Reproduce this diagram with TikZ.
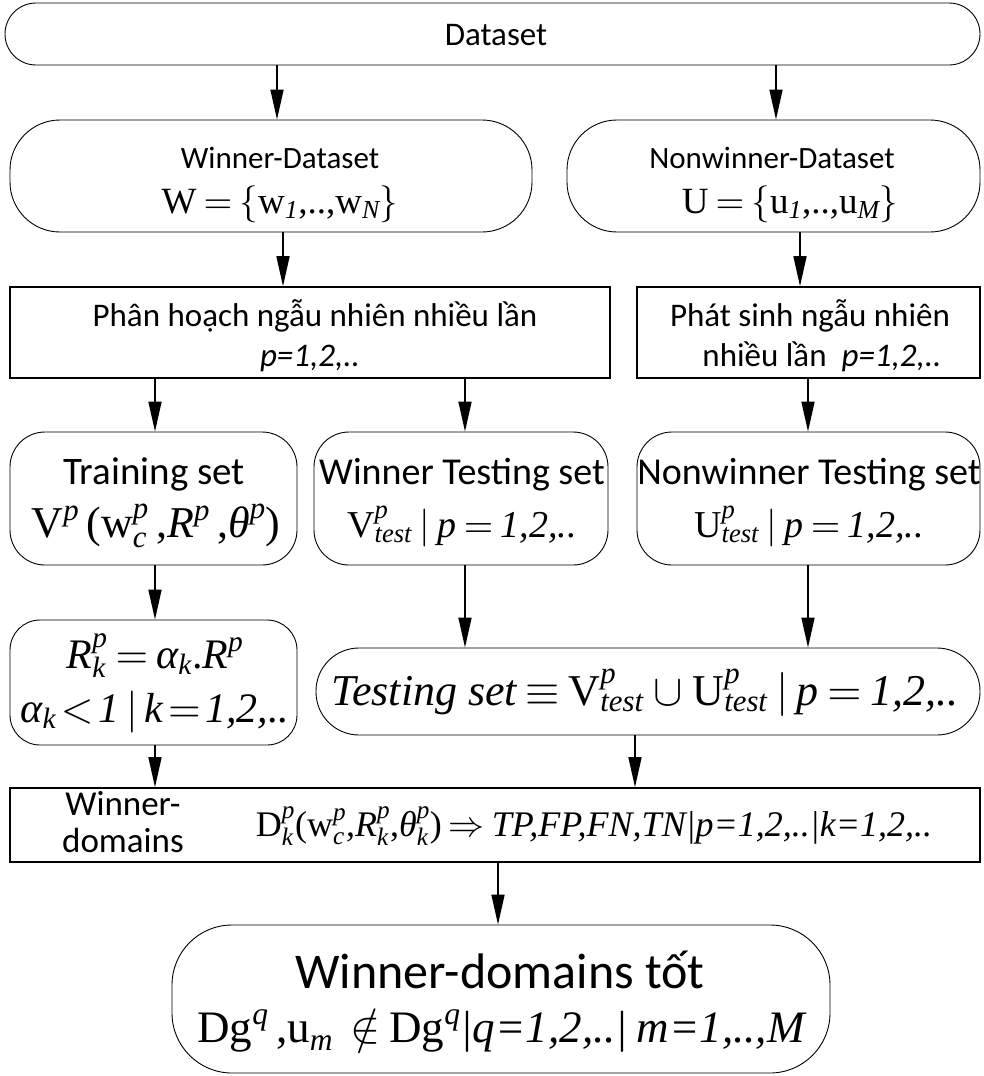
\documentclass[tikz,border=0pt]{standalone}
\DeclareFontShape{OML}{cmm}{m}{it}{<->cmmi10}{}
\DeclareFontShape{OMS}{cmsy}{m}{n}{<->cmsy10}{}
\DeclareFontShape{OT1}{cmr}{m}{n}{<->cmr10}{}
\DeclareFontShape{OMX}{cmex}{m}{n}{<->cmex10}{}
\usepackage{amsmath}
\usepackage{fontspec}
\setmainfont{Liberation Serif}
\setsansfont{Carlito}
\usetikzlibrary{arrows.meta,calc}
\newcommand\fs[1]{\fontsize{#1}{#1}\selectfont}
\newcommand\rT[1]{\text{\normalfont\rmfamily #1}}
\newcommand\iT[1]{\text{\normalfont\rmfamily\itshape #1}}
\begin{document}
\thickmuskip=3.5mu plus 2mu
\begin{tikzpicture}[x=1pt,y=-1pt,
  rbox/.style={draw, line width=0.9pt, inner sep=0pt},
  sbox/.style={draw, line width=1.6pt, inner sep=0pt},
  lbl/.style={anchor=base, inner sep=0pt},
  sf/.style={lbl, font=\sffamily\fs{#1}},
  mf/.style={lbl, font=\rmfamily\fs{#1}},
  arr/.style={line width=1.6pt, -{Triangle[length=30pt,width=13pt]}}]
\useasboundingbox (0,0) rectangle (984,1076);
% boxes
\node[rbox, rounded corners=31pt, minimum width=975pt, minimum height=62pt] (ds) at (492.5,34) {};
\node[rbox, rounded corners=50pt, minimum width=522pt, minimum height=112pt] (wd) at (271,176) {};
\node[rbox, rounded corners=50pt, minimum width=413pt, minimum height=112pt] (nd) at (773.5,176) {};
\node[sbox, minimum width=600pt, minimum height=91pt] (ph) at (310,332.5) {};
\node[sbox, minimum width=343pt, minimum height=91pt] (ps) at (808.5,332.5) {};
\node[rbox, rounded corners=35pt, minimum width=287pt, minimum height=133pt] (tr) at (153.5,498.5) {};
\node[rbox, rounded corners=35pt, minimum width=294pt, minimum height=133pt] (wt) at (461,498.5) {};
\node[rbox, rounded corners=35pt, minimum width=343pt, minimum height=133pt] (nt) at (808.5,498.5) {};
\node[rbox, rounded corners=30pt, minimum width=287pt, minimum height=125pt] (rk) at (153.5,682.5) {};
\node[rbox, rounded corners=43pt, minimum width=664pt, minimum height=87pt] (ts) at (648,691.5) {};
\node[sbox, minimum width=970pt, minimum height=74pt] (wdm) at (495,825) {};
\node[rbox, rounded corners=60pt, minimum width=658pt, minimum height=148pt] (wg) at (501,999) {};
% texts
\node[sf=33] (dsT) at (496,45) {Dataset};
\node[sf=31] (wdT) at (280,168) {Winner-Dataset};
\node[mf=37] (wdM) at (280,213) {$\rT{W}=\{\rT{w}_{\iT{1}}\rT{,..,}\rT{w}_{\iT{N}}\}$};
\node[sf=31] (ndT) at (772,168) {Nonwinner-Dataset};
\node[mf=37] (ndM) at (790,213) {$\rT{U}=\{\rT{u}_{\iT{1}}\rT{,..,}\rT{u}_{\iT{M}}\}$};
\node[sf=33] (phT) at (315,326) {Phân hoạch ngẫu nhiên nhiều lần};
\node[sf=33] (phP) at (310,366) {\textit{p=1,2,..}};
\node[sf=33] (psT) at (810,326) {Phát sinh ngẫu nhiên};
\node[sf=33] (psP) at (822,366) {nhiều lần\ \ \textit{p=1,2,..}};
\node[sf=39] (trT) at (154,484) {Training set};
\node[mf=44] (trM) at (156,537) {$\rT{V}^{\iT{p}}\,\rT{(w}^{\iT{p}}_{\iT{c}}\,\rT{,}\iT{R}^{\iT{p}}\,\rT{,}\iT{θ}^{\iT{p}}\rT{)}$};
\node[sf=38] (wtT) at (462,484) {Winner Testing set};
\node[mf=38] (wtM) at (462,537) {$\rT{V}^{\iT{p}}_{\iT{test}}\mid\iT{p}=\iT{1,2,..}$};
\node[sf=38] (ntT) at (809,484) {Nonwinner Testing set};
\node[mf=38] (ntM) at (809,537) {$\rT{U}^{\iT{p}}_{\iT{test}}\mid\iT{p}=\iT{1,2,..}$};
\node[mf=42] (rkA) at (155,668) {$\iT{R}^{\iT{p}}_{\iT{k}}=\iT{α}_{\iT{k}}\rT{.}\iT{R}^{\iT{p}}$};
\node[mf=42] (rkB) at (155,722) {\thickmuskip=2mu$\iT{α}_{\iT{k}}<\iT{1}\,|\,\iT{k}=\iT{1,2,..}$};
\node[mf=44] (tsM) at (645,705) {$\iT{Testing set}\equiv\rT{V}^{\iT{p}}_{\iT{test}}\cup\rT{U}^{\iT{p}}_{\iT{test}}\mid\iT{p}=\iT{1,2,..}$};
\node[sf=35] (wdmA) at (123,815) {Winner-};
\node[sf=35] (wdmB) at (123,852) {domains};
\node[mf=36] (wdmC) at (594,836)
  {$\rT{D}^{\iT{p}}_{\iT{k}}\rT{(w}^{\iT{p}}_{\iT{c}}\rT{,}\iT{R}^{\iT{p}}_{\iT{k}}\rT{,}\iT{θ}^{\iT{p}}_{\iT{k}}\rT{)}\Rightarrow\iT{TP,FP,FN,TN|p=1,2,..|k=1,2,..}$};
\node[sf=50] (wgT) at (500,988) {Winner-domains tốt};
\node[mf=45] (wgM) at (501,1042) {$\rT{Dg}^{\iT{q}}\,\rT{,u}_{\iT{m}}\;\notin\rT{Dg}^{\iT{q}}\iT{|q=1,2,..|}\;\iT{m=1,..,M}$};
% arrows
\draw[arr] (277,0 |- ds.south) -- (277,0 |- wd.north);
\draw[arr] (776,0 |- ds.south) -- (776,0 |- nd.north);
\draw[arr] (283,0 |- wd.south) -- (283,0 |- ph.north);
\draw[arr] (800,0 |- nd.south) -- (800,0 |- ps.north);
\draw[arr] (155,0 |- ph.south) -- (155,0 |- tr.north);
\draw[arr] (465,0 |- ph.south) -- (465,0 |- wt.north);
\draw[arr] (808,0 |- ps.south) -- (808,0 |- nt.north);
\draw[arr] (155,0 |- tr.south) -- (155,0 |- rk.north);
\draw[arr] (465,0 |- wt.south) -- (465,0 |- ts.north);
\draw[arr] (808,0 |- nt.south) -- (808,0 |- ts.north);
\draw[arr] (155,0 |- rk.south) -- (155,0 |- wdm.north);
\draw[arr] (635,0 |- ts.south) -- (635,0 |- wdm.north);
\draw[arr] (498,0 |- wdm.south) -- (498,0 |- wg.north);
\end{tikzpicture}
\end{document}
